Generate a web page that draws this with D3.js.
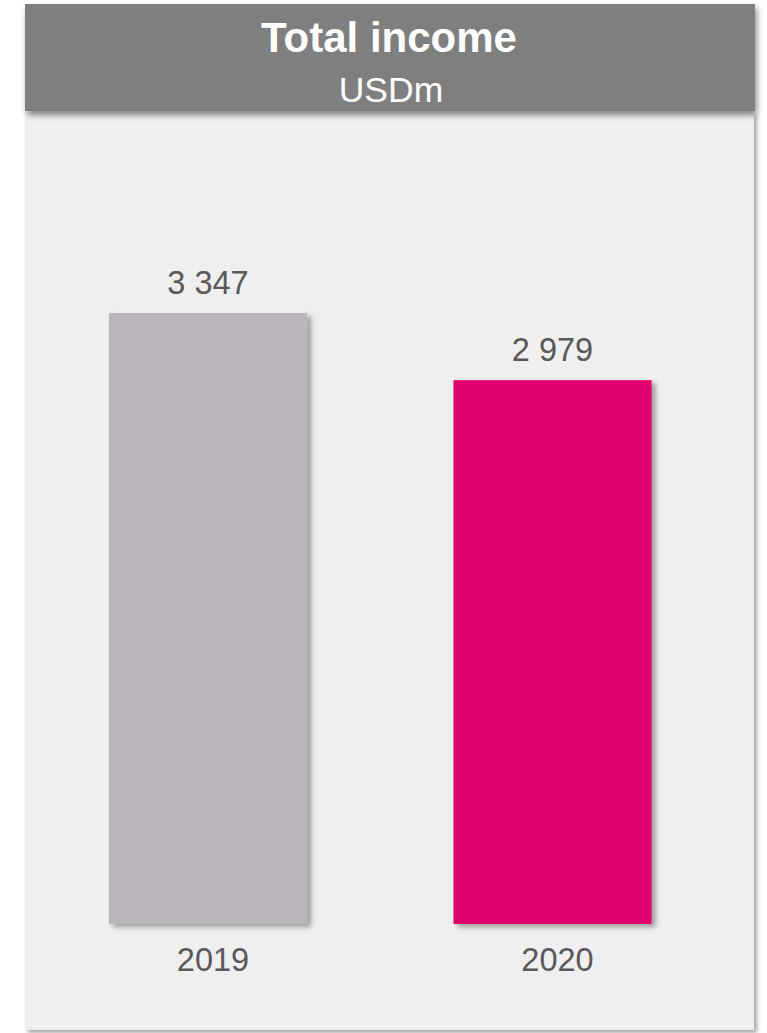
<!DOCTYPE html>
<html>
<head>
<meta charset="utf-8">
<script src="https://cdn.jsdelivr.net/npm/d3@7"></script>
<style>
  html, body { margin: 0; padding: 0; background: #ffffff; }
  svg { display: block; }
</style>
</head>
<body>
<svg id="chart" width="767" height="1033"></svg>
<script>
// Total income by year, USD millions
const years = ["2019", "2020"];
const income = [3347, 2979];
const barColors = ["#b9b5ba", "#e0006f"];
const title = "Total income";
const subtitle = "USDm";

const FONT = "Liberation Sans, Arial, sans-serif";
const svg = d3.select("#chart");
const defs = svg.append("defs");

// soft drop shadows
function shadow(id, dx, dy, blur, opacity) {
  const f = defs.append("filter").attr("id", id)
    .attr("x", "-20%").attr("y", "-20%").attr("width", "140%").attr("height", "140%");
  f.append("feDropShadow")
    .attr("dx", dx).attr("dy", dy).attr("stdDeviation", blur)
    .attr("flood-color", "#000").attr("flood-opacity", opacity);
}
shadow("panelShadow", 3, 3, 2, 0.35);
shadow("headShadow", 2, 4, 3, 0.45);
shadow("barShadow", 4, 3, 2.5, 0.35);

// chart panel
svg.append("rect")
  .attr("x", 25).attr("y", 112).attr("width", 729).attr("height", 918)
  .attr("fill", "#efefef").attr("filter", "url(#panelShadow)");

// header band
svg.append("rect")
  .attr("x", 25).attr("y", 4).attr("width", 730).attr("height", 107)
  .attr("fill", "#7f7f7f").attr("filter", "url(#headShadow)");

svg.append("text")
  .attr("x", 389).attr("y", 51.5)
  .attr("text-anchor", "middle")
  .attr("font-family", FONT)
  .attr("font-weight", "bold").attr("font-size", 42)
  .attr("fill", "#ffffff")
  .text(title);

svg.append("text")
  .attr("x", 391).attr("y", 101.5)
  .attr("text-anchor", "middle")
  .attr("font-family", FONT)
  .attr("font-size", 35.5)
  .attr("fill", "#ffffff")
  .text(subtitle);

// scales
const x = d3.scaleBand()
  .domain(years)
  .range([40, 720.5])
  .paddingInner(0.425)
  .paddingOuter(0.2);

const y = d3.scaleLinear()
  .domain([0, 4500])
  .range([924, 102.5]);

const data = years.map((yr, i) => ({ year: yr, value: income[i], color: barColors[i] }));

const fmt = v => d3.format(",")(v).replace(/,/g, " ");

const g = svg.append("g");

g.selectAll("rect.bar")
  .data(data)
  .join("rect")
  .attr("class", "bar")
  .attr("x", d => x(d.year))
  .attr("y", d => y(d.value))
  .attr("width", x.bandwidth())
  .attr("height", d => y(0) - y(d.value))
  .attr("fill", d => d.color)
  .attr("filter", "url(#barShadow)");

g.selectAll("text.val")
  .data(data)
  .join("text")
  .attr("class", "val")
  .attr("x", d => x(d.year) + x.bandwidth() / 2)
  .attr("y", d => y(d.value) - 19)
  .attr("text-anchor", "middle")
  .attr("font-family", FONT)
  .attr("font-size", 32.5)
  .attr("fill", "#595959")
  .text(d => fmt(d.value));

// category axis labels
const xAxis = d3.axisBottom(x).tickSize(0).tickPadding(0);
const axisG = svg.append("g")
  .attr("transform", `translate(5, ${y(0) + 47})`)
  .call(xAxis);
axisG.select(".domain").remove();
axisG.selectAll("text")
  .attr("dy", 0)
  .attr("font-family", FONT)
  .attr("font-size", 32.5)
  .attr("fill", "#595959");
</script>
</body>
</html>
